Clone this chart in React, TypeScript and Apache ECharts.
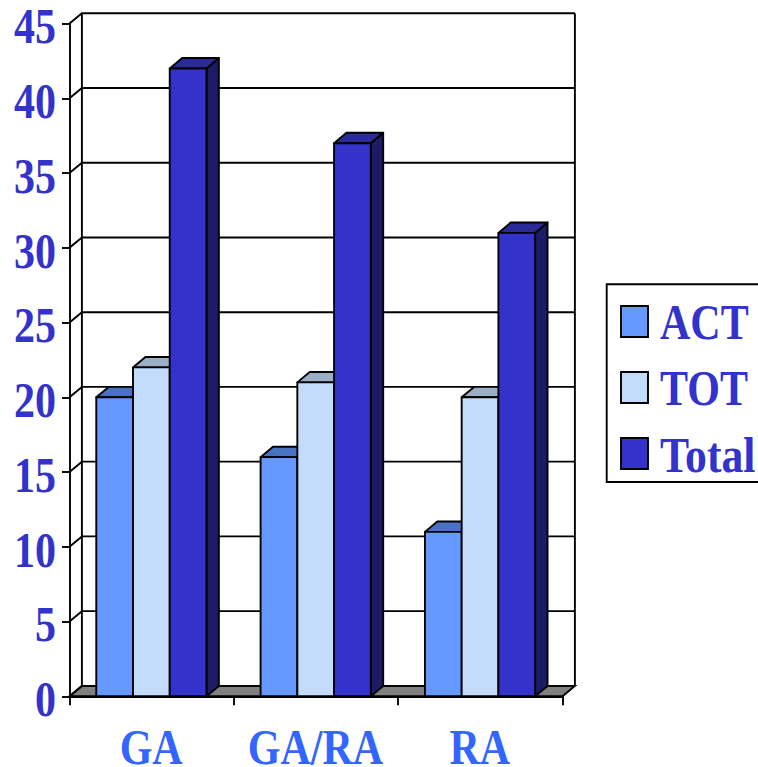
import React, { useEffect, useRef } from "react";
import * as echarts from "echarts";

const categories = ["GA", "GA/RA", "RA"];
const seriesNames = ["ACT", "TOT", "Total"];
const actValues = [20, 16, 11];
const totValues = [22, 21, 20];
const totalValues = [42, 37, 31];
const yTicks = [0, 5, 10, 15, 20, 25, 30, 35, 40, 45];

const allValues = [actValues, totValues, totalValues];
const frontColors = ["#6699ff", "#c4dcfb", "#3333cc"];
const topColors = ["#4a72c4", "#9aaec6", "#2a2a99"];
const sideColors = ["#33508f", "#62718a", "#1c1c66"];
const legendScaleX = [1, 1, 1.04];

const FONT = 'bold 42px "Liberation Serif"';
const BLUE = "#3333cc";
const CAT_BLUE = "#3366ff";
const DX = 12.4;
const DY = -10.4;
const TEXT_SCALE_Y = 1.2;
const LW = 1.9;

export default function App() {
  const ref = useRef<HTMLDivElement>(null);
  useEffect(() => {
    document.body.style.margin = "0";
    const chart = echarts.init(ref.current!, undefined, { renderer: "svg" });

    const lineStyle = { stroke: "#000", lineWidth: LW, fill: "none" };

    const floorSeries = {
      type: "custom",
      z: 1,
      silent: true,
      data: [[0, 0]],
      renderItem: (params: any, api: any) => {
        const g = params.coordSys;
        const y0 = api.coord([0, 0])[1];
        const yTop = api.coord([0, 45])[1];
        const l = g.x;
        const r = g.x + g.width;
        return {
          type: "group",
          children: [
            {
              type: "polygon",
              shape: { points: [[l, y0], [l + DX, y0 + DY], [r + DX, y0 + DY], [r, y0]] },
              style: { fill: "#808080", stroke: "#000", lineWidth: LW },
            },
            {
              type: "line",
              shape: { x1: l + DX, y1: y0 + DY, x2: l + DX, y2: yTop + DY },
              style: lineStyle,
            },
            {
              type: "line",
              shape: { x1: r + DX, y1: y0 + DY, x2: r + DX, y2: yTop + DY },
              style: lineStyle,
            },
          ],
        };
      },
    };

    const gridSeries = {
      type: "custom",
      z: 2,
      silent: true,
      data: yTicks.map((t) => [0, t]),
      renderItem: (params: any, api: any) => {
        const g = params.coordSys;
        const t = api.value(1);
        const y = api.coord([0, t])[1];
        return {
          type: "polyline",
          shape: {
            points: [
              [g.x, y],
              [g.x + DX, y + DY],
              [g.x + g.width + DX, y + DY],
            ],
          },
          style: lineStyle,
        };
      },
    };

    const barSeries = seriesNames.map((name, si) => ({
      type: "custom",
      name,
      z: 3 + si,
      silent: true,
      data: allValues[si].map((v, i) => [i, v]),
      renderItem: (_params: any, api: any) => {
        const cat = api.value(0);
        const val = api.value(1);
        const w = api.size([1, 0])[0] * 0.2235;
        const c = api.coord([cat, val]);
        const base = api.coord([cat, 0]);
        const x1 = c[0] + (si - 1.5) * w - 0.3;
        const x2 = x1 + w;
        const yT = c[1];
        const yB = base[1];
        const stroke = { stroke: "#000", lineWidth: LW, lineJoin: "round" };
        return {
          type: "group",
          children: [
            {
              type: "polygon",
              shape: { points: [[x2, yT], [x2 + DX, yT + DY], [x2 + DX, yB + DY], [x2, yB]] },
              style: { fill: sideColors[si], ...stroke },
            },
            {
              type: "polygon",
              shape: { points: [[x1, yT], [x1 + DX, yT + DY], [x2 + DX, yT + DY], [x2, yT]] },
              style: { fill: topColors[si], ...stroke },
            },
            {
              type: "rect",
              shape: { x: x1, y: yT, width: w, height: yB - yT },
              style: { fill: frontColors[si], ...stroke },
            },
          ],
        };
      },
    }));

    const yLabelSeries = {
      type: "custom",
      z: 10,
      silent: true,
      data: yTicks.map((t) => [0, t]),
      renderItem: (params: any, api: any) => {
        const g = params.coordSys;
        const t = api.value(1);
        const y = api.coord([0, t])[1];
        return {
          type: "text",
          x: g.x - 13.5,
          y: y + 3,
          scaleY: TEXT_SCALE_Y,
          style: {
            text: String(t),
            font: FONT,
            fill: BLUE,
            align: "right",
            verticalAlign: "middle",
          },
        };
      },
    };

    const catLabelSeries = {
      type: "custom",
      z: 10,
      silent: true,
      data: categories.map((_, i) => [i, 0]),
      renderItem: (params: any, api: any) => {
        const g = params.coordSys;
        const i = api.value(0);
        const x = api.coord([i, 0])[0];
        return {
          type: "text",
          x: x - 0.5,
          y: g.y + g.height + 50.5,
          scaleY: TEXT_SCALE_Y,
          style: {
            text: categories[i],
            font: FONT,
            fill: CAT_BLUE,
            align: "center",
            verticalAlign: "middle",
          },
        };
      },
    };

    const legendGraphic: any[] = [
      {
        type: "rect",
        shape: { x: 606.7, y: 284.3, width: 200, height: 197.7 },
        style: { fill: "#fff", stroke: "#000", lineWidth: LW },
      },
    ];
    seriesNames.forEach((name, i) => {
      const top = 306 + i * 66;
      legendGraphic.push({
        type: "rect",
        shape: { x: 621, y: top, width: 27, height: 31 },
        style: { fill: frontColors[i], stroke: "#000", lineWidth: LW },
      });
      legendGraphic.push({
        type: "text",
        x: 660,
        y: top + 16.5,
        scaleX: legendScaleX[i],
        scaleY: TEXT_SCALE_Y,
        style: { text: name, font: FONT, fill: BLUE, align: "left", verticalAlign: "middle" },
      });
    });

    chart.setOption({
      animation: false,
      backgroundColor: "#fff",
      grid: { left: 69.5, top: 23.6, width: 493, height: 672.7 },
      xAxis: {
        type: "category",
        data: categories,
        axisLine: { show: true, lineStyle: { color: "#000", width: LW } },
        axisTick: { show: true, length: 9, alignWithLabel: false, lineStyle: { color: "#000", width: LW } },
        axisLabel: { show: false },
        splitLine: { show: false },
      },
      yAxis: {
        type: "value",
        min: 0,
        max: 45,
        interval: 5,
        axisLine: { show: true, lineStyle: { color: "#000", width: LW } },
        axisTick: { show: true, length: 7.5, lineStyle: { color: "#000", width: LW } },
        axisLabel: { show: false },
        splitLine: { show: false },
      },
      graphic: legendGraphic,
      series: [floorSeries, gridSeries, ...barSeries, yLabelSeries, catLabelSeries],
    } as any);
    return () => chart.dispose();
  }, []);
  return (
    <div
      ref={ref}
      style={{ position: "absolute", left: 0, top: 0, width: 758, height: 767, overflow: "hidden" }}
    />
  );
}
